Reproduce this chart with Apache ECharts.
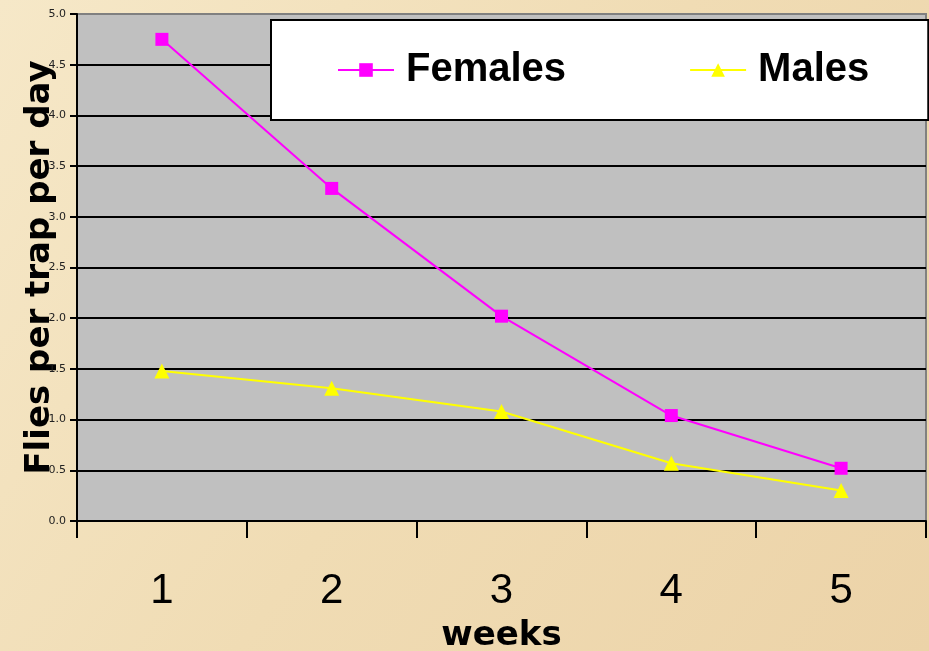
<!DOCTYPE html>
<html><head><meta charset="utf-8">
<script src="https://cdn.jsdelivr.net/npm/echarts@6/dist/echarts.min.js"></script>
<style>html,body{margin:0;padding:0;}#c{width:929px;height:651px;}</style>
</head><body><div id="c"></div>
<script>
const weeks = ['1', '2', '3', '4', '5'];
const females = [4.75, 3.28, 2.02, 1.04, 0.52];
const males = [1.48, 1.31, 1.08, 0.57, 0.30];
const yTicks = [0, 0.5, 1, 1.5, 2, 2.5, 3, 3.5, 4, 4.5, 5];

const chart = echarts.init(document.getElementById('c'));
const splitColors = yTicks.map((v, i) => i === yTicks.length - 1 ? '#808080' : '#000000');
chart.setOption({
  animation: false,
  backgroundColor: {
    type: 'linear', x: 0, y: 0, x2: 1, y2: 1,
    colorStops: [{offset: 0, color: '#f6e8c8'}, {offset: 0.5, color: '#f0dcb4'}, {offset: 1, color: '#ecd3a8'}]
  },
  grid: {
    left: 77, right: 3, top: 14, bottom: 130,
    outerBoundsMode: 'none', containLabel: false,
    show: true, backgroundColor: '#c0c0c0', borderColor: '#808080', borderWidth: 2
  },
  legend: {
    left: 271, top: 20,
    backgroundColor: '#ffffff', borderColor: '#000000', borderWidth: 2,
    padding: [30, 59, 30, 66],
    itemGap: 123, itemWidth: 56, itemHeight: 17,
    textStyle: {fontFamily: 'Liberation Sans', fontWeight: 'bold', fontSize: 40, color: '#000', lineHeight: 40, padding: [0, 0, 0, 7]},
    data: ['Females', 'Males']
  },
  xAxis: {
    type: 'category', data: weeks, boundaryGap: true,
    axisLine: {lineStyle: {color: '#000', width: 2}},
    axisTick: {show: true, length: 17, lineStyle: {color: '#000', width: 2}},
    axisLabel: {fontFamily: 'Liberation Sans', fontSize: 42, color: '#000', margin: 49},
    name: 'weeks', nameLocation: 'middle', nameGap: 98, nameMoveOverlap: false,
    nameTextStyle: {fontFamily: 'DejaVu Sans', fontWeight: 'bold', fontSize: 34, color: '#000'}
  },
  yAxis: {
    type: 'value', min: 0, max: 5, interval: 0.5,
    axisLine: {show: true, lineStyle: {color: '#000', width: 2}},
    axisTick: {show: true, length: 7, lineStyle: {color: '#000', width: 2}},
    axisLabel: {fontFamily: 'DejaVu Sans', fontSize: 11, color: '#222', margin: 11, formatter: v => v.toFixed(1)},
    splitLine: {show: true, lineStyle: {color: splitColors, width: 2}},
    name: 'Flies per trap per day', nameLocation: 'middle', nameRotate: 90, nameGap: 20, nameMoveOverlap: false,
    nameTextStyle: {fontFamily: 'DejaVu Sans', fontWeight: 'bold', fontSize: 34, color: '#000'}
  },
  series: [
    {name: 'Females', type: 'line', data: females, symbol: 'rect', symbolSize: 13,
     lineStyle: {color: '#ff00ff', width: 2}, itemStyle: {color: '#ff00ff'}},
    {name: 'Males', type: 'line', data: males, symbol: 'triangle', symbolSize: 15,
     lineStyle: {color: '#ffff00', width: 2}, itemStyle: {color: '#ffff00'}}
  ]
});
</script></body></html>
